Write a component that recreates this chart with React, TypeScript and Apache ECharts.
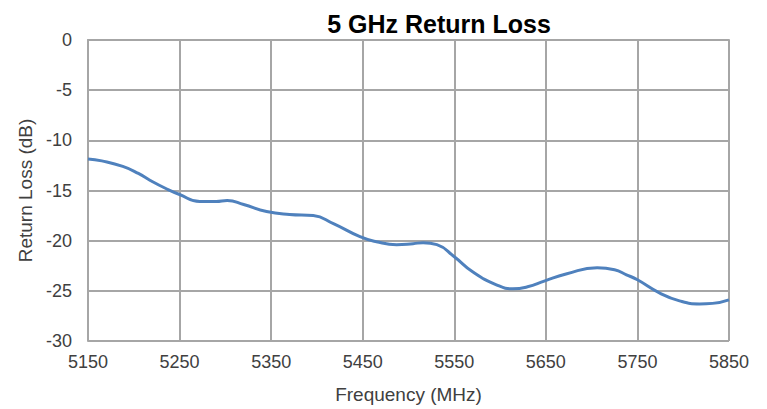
import React, { useEffect, useRef } from "react";
import * as echarts from "echarts";

const frequencies = [5150, 5165, 5188, 5205, 5218, 5235, 5250, 5272, 5290, 5302, 5320, 5345, 5370, 5396, 5418, 5447, 5465, 5487, 5505, 5516, 5531, 5550, 5570, 5596, 5614, 5630, 5649, 5673, 5706, 5725, 5738, 5750, 5774, 5796, 5818, 5832, 5850];
const returnLoss = [-11.85, -12.05, -12.6, -13.3, -14.0, -14.8, -15.4, -16.1, -16.1, -16.0, -16.4, -17.1, -17.4, -17.5, -18.3, -19.6, -20.1, -20.4, -20.3, -20.2, -20.4, -21.6, -23.1, -24.4, -24.8, -24.6, -24.0, -23.3, -22.7, -22.9, -23.4, -23.9, -25.2, -26.0, -26.3, -26.25, -25.9];

const xTicks = { min: 5150, max: 5850, interval: 100 };
const yTicks = { min: -30, max: 0, interval: 5 };

export default function App() {
  const ref = useRef<HTMLDivElement>(null);
  useEffect(() => {
    if (!ref.current) return;
    const chart = echarts.init(ref.current, undefined, { renderer: "svg" });
    const gridColor = "#a6a6a6";
    const font = "'Liberation Sans', Arial, sans-serif";
    const textColor = "#404040";
    chart.setOption({
      animation: false,
      title: {
        text: "5 GHz Return Loss",
        left: 434,
        textAlign: "center",
        top: 6,
        textStyle: { fontFamily: font, fontSize: 25, fontWeight: "bold", color: "#000" },
      },
      grid: { left: 88, top: 40, right: 38, bottom: 65, containLabel: false },
      xAxis: {
        type: "value",
        min: xTicks.min,
        max: xTicks.max,
        interval: xTicks.interval,
        name: "Frequency (MHz)",
        nameLocation: "middle",
        nameGap: 44,
        nameTextStyle: { fontFamily: font, fontSize: 19, color: textColor },
        axisLine: { show: true, lineStyle: { color: gridColor, width: 2 } },
        axisTick: { show: false },
        axisLabel: { fontFamily: font, fontSize: 18, color: textColor, margin: 12, formatter: (v: number) => String(v) },
        splitLine: { show: true, lineStyle: { color: gridColor, width: 2 } },
      },
      yAxis: {
        type: "value",
        min: yTicks.min,
        max: yTicks.max,
        interval: yTicks.interval,
        name: "Return Loss (dB)",
        nameLocation: "middle",
        nameGap: 53,
        nameTextStyle: { fontFamily: font, fontSize: 19, color: textColor },
        axisLine: { show: true, lineStyle: { color: gridColor, width: 2 } },
        axisTick: { show: false },
        axisLabel: { fontFamily: font, fontSize: 18, color: textColor, margin: 16, formatter: (v: number) => String(v) },
        splitLine: { show: true, lineStyle: { color: gridColor, width: 2 } },
      },
      series: [
        {
          type: "line",
          data: frequencies.map((f, i) => [f, returnLoss[i]]),
          smooth: 0.5,
          showSymbol: false,
          lineStyle: { color: "#4f81bd", width: 3 },
        },
      ],
    });
    return () => chart.dispose();
  }, []);
  return <div ref={ref} style={{ position: "fixed", left: 0, top: 0, width: 767, height: 409, background: "#fff" }} />;
}
